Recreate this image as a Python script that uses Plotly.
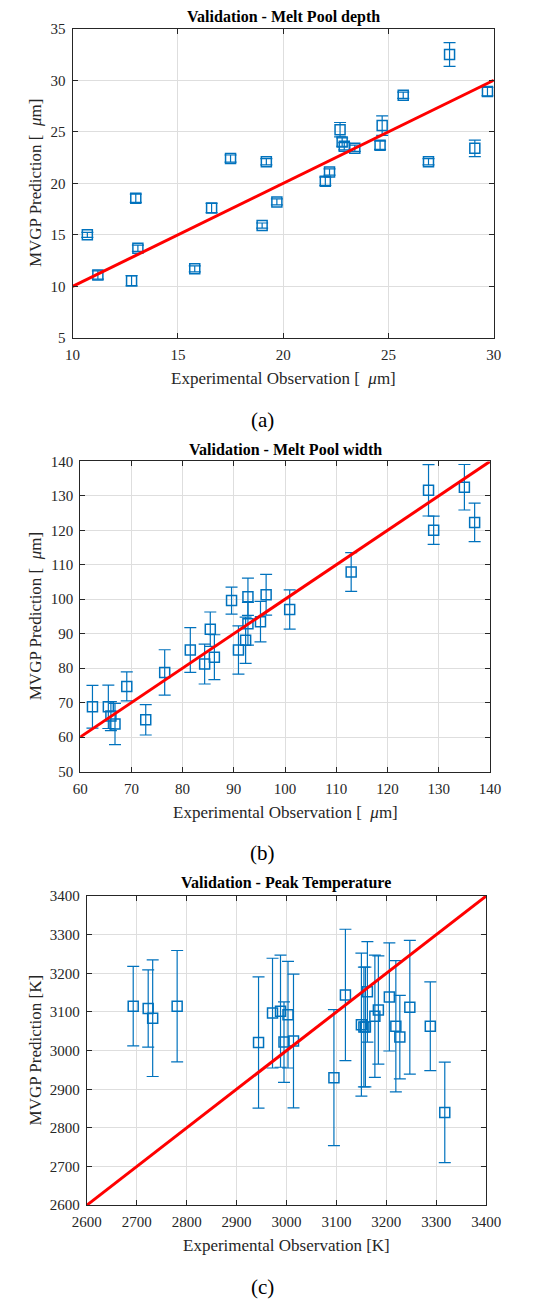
import plotly.graph_objects as go

# ---------------- data ----------------
depth_obs = [10.7, 11.2, 12.8, 13.0, 13.1, 15.8, 16.6, 17.5, 19.0, 19.2, 19.7, 22.0,
             22.2, 22.7, 22.8, 22.9, 23.4, 24.6, 24.7, 25.7, 26.9, 27.9, 29.1, 29.7]
depth_pred = [15.0, 11.1, 10.55, 18.55, 13.7, 11.7, 17.6, 22.4, 15.9, 22.1, 18.2, 20.2,
              21.1, 25.2, 24.0, 23.6, 23.4, 23.7, 25.6, 28.55, 22.1, 32.5, 23.4, 28.9]
depth_err = [0.25, 0.4, 0.5, 0.4, 0.3, 0.3, 0.45, 0.35, 0.25, 0.3, 0.3, 0.4,
             0.3, 0.7, 0.4, 0.35, 0.3, 0.4, 0.95, 0.3, 0.3, 1.15, 0.8, 0.4]

width_obs = [62.4, 65.5, 66.0, 66.8, 69.1, 72.8, 76.5, 81.5, 84.3, 85.4, 86.2, 89.55,
             90.9, 92.3, 92.75, 92.75, 95.2, 96.3, 100.9, 112.9, 128.0, 129.0, 135.0, 137.0]
width_pred = [68.8, 68.8, 66.1, 63.8, 74.7, 65.0, 78.75, 85.25, 81.2, 91.3, 83.2, 99.6,
              85.25, 88.1, 92.9, 100.7, 93.5, 101.3, 97.0, 107.9, 131.6, 120.0, 132.5, 122.3]
width_err = [6.2, 6.3, 4.2, 6.0, 4.2, 4.4, 6.6, 6.5, 5.8, 5.0, 6.5, 3.9,
             7.0, 6.7, 6.2, 5.4, 5.9, 5.9, 5.7, 5.6, 7.45, 4.1, 6.6, 5.6]

temp_obs = [2693, 2723, 2732, 2781, 2944, 2972, 2988, 2995, 3003, 3014, 3095, 3118,
            3150, 3155, 3158, 3162, 3177, 3184, 3206, 3219, 3227, 3247, 3288, 3317]
temp_pred = [3115, 3109, 3084, 3115, 3021, 3097, 3102, 3022, 3093, 3025, 2930, 3144,
             3067, 3061, 3061, 3152, 3089, 3105, 3139, 3063, 3035, 3112, 3063, 2840]
temp_err = [103, 100, 151, 144, 170, 142, 145, 104, 138, 173, 176, 170,
            185, 155, 155, 130, 158, 140, 140, 170, 108, 173, 115, 130]

ref_depth = [10, 30]
ref_width = [60, 140]
ref_temp = [2600, 3400]

titles = ["Validation - Melt Pool depth", "Validation - Melt Pool width",
          "Validation - Peak Temperature"]
xlabels = ["Experimental Observation [  <i>μ</i>m]", "Experimental Observation [  <i>μ</i>m]",
           "Experimental Observation [K]"]
ylabels = ["MVGP Prediction [  <i>μ</i>m]", "MVGP Prediction [  <i>μ</i>m]",
           "MVGP Prediction [K]"]
captions = ["(a)", "(b)", "(c)"]

# ---------------- layout geometry (pixels) ----------------
W, H = 539, 1310
panels = [
    dict(x0=61, x1=507, y0=21, y1=334, xr=[10, 30], yr=[5, 35], dx=5, dy=5),
    dict(x0=69, x1=503, y0=459, y1=773, xr=[60, 140], yr=[50, 140], dx=10, dy=10),
    dict(x0=76, x1=499, y0=899, y1=1212, xr=[2600, 3400], yr=[2600, 3400], dx=100, dy=100),
]
label_y = [375, 814, 1253]
cap_y = [417, 855, 1295]
title_y = [9, 447, 886]

BLUE = "#0072BD"
AX = "#262626"
FONT = "Liberation Serif, Times New Roman, serif"

fig = go.Figure()
datasets = [(depth_obs, depth_pred, depth_err, ref_depth),
            (width_obs, width_pred, width_err, ref_width),
            (temp_obs, temp_pred, temp_err, ref_temp)]

annotations = []
for i, (p, (xo, yp, er, ref)) in enumerate(zip(panels, datasets)):
    n = "" if i == 0 else str(i + 1)
    xa, ya = "x" + n, "y" + n
    fig.add_trace(go.Scatter(
        x=xo, y=yp, mode="markers", xaxis=xa, yaxis=ya,
        marker=dict(symbol="square-open", size=10, color=BLUE, line=dict(width=1.5, color=BLUE)),
        error_y=dict(type="data", array=er, visible=True, color=BLUE, thickness=1.2, width=6),
        showlegend=False, cliponaxis=False))
    fig.add_trace(go.Scatter(
        x=ref, y=ref, mode="lines", xaxis=xa, yaxis=ya,
        line=dict(color="#FF0000", width=3), showlegend=False))

    axcommon = dict(showgrid=True, gridcolor="#dedede", gridwidth=1, zeroline=False,
                    showline=True, linecolor=AX, linewidth=1, mirror="ticks",
                    ticks="inside", ticklen=5, tickcolor=AX, tickwidth=1,
                    tickfont=dict(family=FONT, size=15, color=AX))
    fig.update_layout(**{
        "xaxis" + n: dict(domain=[p["x0"] / W, p["x1"] / W], range=p["xr"], dtick=p["dx"],
                          tick0=p["xr"][0], anchor=ya, ticklabelstandoff=3, **axcommon),
        "yaxis" + n: dict(domain=[1 - p["y1"] / H, 1 - p["y0"] / H], range=p["yr"], dtick=p["dy"],
                          tick0=p["yr"][0], anchor=xa, ticklabelstandoff=3, **axcommon),
    })
    cx = (p["x0"] + p["x1"]) / 2 / W
    annotations.append(dict(text="<b>" + titles[i] + "</b>", x=cx, y=1 - title_y[i] / H,
                            xref="paper", yref="paper", showarrow=False,
                            font=dict(family=FONT, size=16, color="#000000"),
                            xanchor="center", yanchor="middle"))
    annotations.append(dict(text=xlabels[i], x=cx, y=1 - label_y[i] / H,
                            xref="paper", yref="paper", showarrow=False,
                            font=dict(family=FONT, size=17, color=AX),
                            xanchor="center", yanchor="middle"))
    annotations.append(dict(text=ylabels[i], x=22 / W, y=1 - (p["y0"] + p["y1"]) / 2 / H,
                            xref="paper", yref="paper", showarrow=False, textangle=-90,
                            font=dict(family=FONT, size=17, color=AX),
                            xanchor="center", yanchor="middle"))
    annotations.append(dict(text=captions[i], x=262 / W, y=1 - cap_y[i] / H,
                            xref="paper", yref="paper", showarrow=False,
                            font=dict(family=FONT, size=21, color="#000000"),
                            xanchor="center", yanchor="middle"))

fig.update_layout(width=W, height=H, margin=dict(l=0, r=0, t=0, b=0),
                  paper_bgcolor="white", plot_bgcolor="white",
                  annotations=annotations)
fig.write_html("out.html")
